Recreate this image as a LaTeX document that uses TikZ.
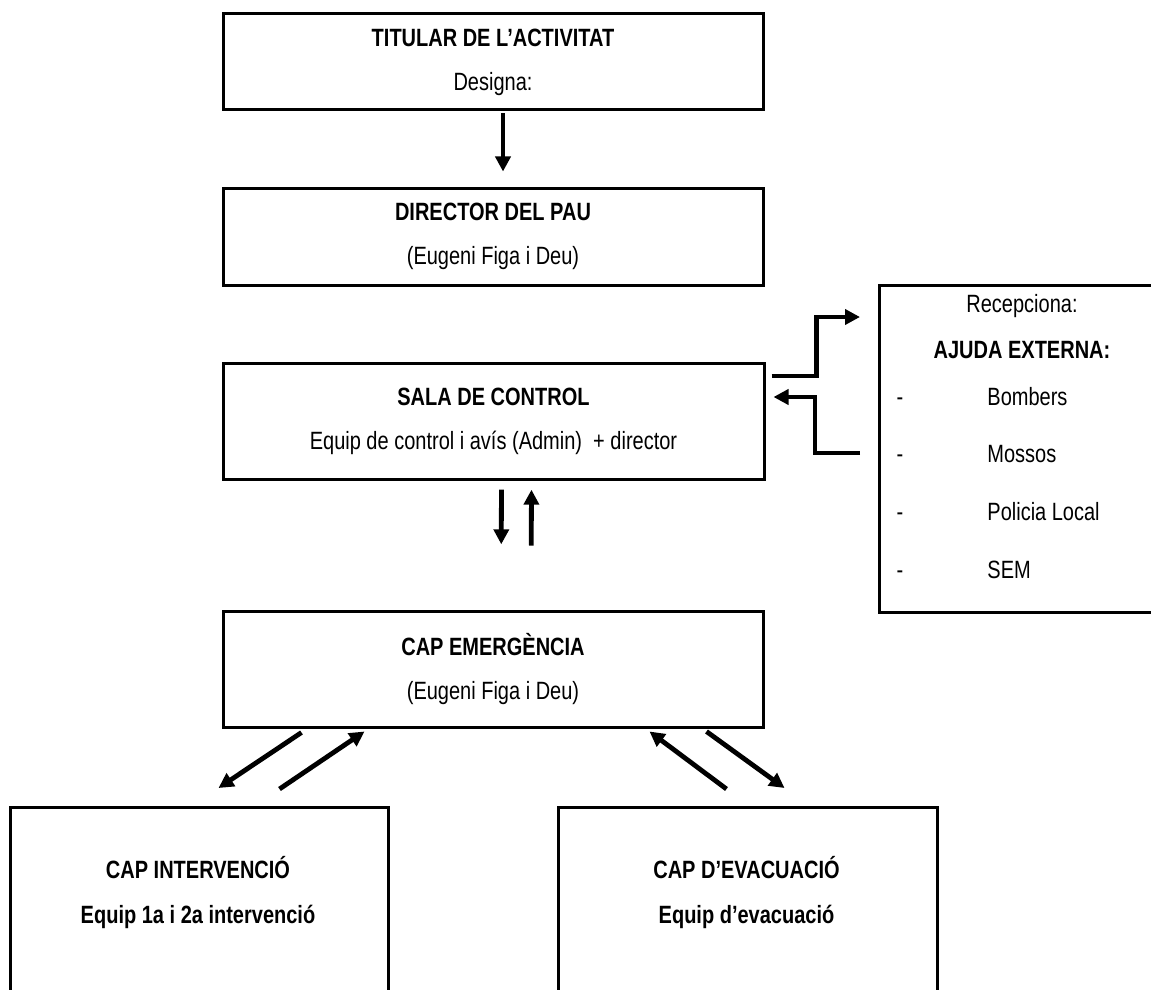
\documentclass[tikz,border=0pt]{standalone}
\usepackage{fontspec}
\setmainfont{Liberation Sans}[FakeStretch=0.8]
\usetikzlibrary{arrows.meta,calc,positioning}

\tikzset{
  box/.style={draw, line width=1.5pt, rectangle, align=center, inner sep=0pt},
  arr/.style={line width=2.4pt, -{Triangle[length=7.5pt,width=7.5pt]}},
}

\begin{document}
\begin{tikzpicture}[x=0.5pt, y=-0.5pt, font=\fontsize{12.5}{22}\selectfont]
\useasboundingbox (0,0) rectangle (1151,990);

\node[box, minimum width=270pt, minimum height=48pt] (titular) at (493,62) {\textbf{TITULAR DE L’ACTIVITAT}\\ Designa:};
\node[box, minimum width=270pt, minimum height=48.5pt] (director) at (493,236.5) {\textbf{DIRECTOR DEL PAU}\\ (Eugeni Figa i Deu)};
\node[box, minimum width=270.5pt, minimum height=58pt] (sala) at (493.5,421) {\textbf{SALA DE CONTROL}\\ Equip de control i avís (Admin)~~+ director};
\node[box, minimum width=270pt, minimum height=58pt] (cap) at (493,669) {\textbf{CAP EMERGÈNCIA}\\ (Eugeni Figa i Deu)};

\node[box, anchor=north west, minimum width=175pt, minimum height=163.5pt] (ajuda) at (878,284) {};
\node[anchor=base] (recep) at (1022,312) {Recepciona:};
\node[anchor=base] (externa) at (1022,358) {\textbf{AJUDA EXTERNA:}};
\foreach \nom [count=\i] in {Bombers, Mossos, Policia Local, SEM} {
  \node[anchor=base] (guio\i) at (900,{405+57.7*(\i-1)}) {-};
  \node[anchor=base west, inner xsep=0pt] (ext\i) at (987,{405+57.7*(\i-1)}) {\nom};
}

\node[box, anchor=north west, minimum width=189pt, minimum height=150pt] (interv) at (9,806) {};
\node[anchor=base] (intervtit) at (198,878) {\textbf{CAP INTERVENCIÓ}};
\node[anchor=base] (intervequip) at (198,923) {\textbf{Equip 1a i 2a intervenció}};
\node[box, anchor=north west, minimum width=189.5pt, minimum height=150pt] (evac) at (557,806) {};
\node[anchor=base] (evactit) at (746.5,878) {\textbf{CAP D’EVACUACIÓ}};
\node[anchor=base] (evacequip) at (746.5,923) {\textbf{Equip d’evacuació}};

\draw[arr, shorten <=1pt, shorten >=7.5pt] ([xshift=5pt]titular.south) -- ([xshift=5pt]director.north);

\draw[arr] ($(sala.east)+(6,-45)$) -- ++(45,0) |- ($(ajuda.north west)+(-18,33)$);
\draw[arr] ($(ajuda.north west)+(-18,169)$) -- ++(-45,0) |- ($(sala.east)+(8,-24)$);

\draw[arr, shorten <=4.6pt, shorten >=32.6pt] ([xshift=4pt]sala.south) -- ([xshift=4pt]cap.north);
\draw[arr, shorten <=32pt, shorten >=4.6pt] ([xshift=19pt]cap.north) -- ([xshift=19pt]sala.south);

\draw[arr] ($(cap.south west)+(80,4)$) -- ($(interv.north)+(19,-18)$);
\draw[arr] ($(interv.north)+(80,-17)$) -- ($(cap.south west)+(143,3)$);
\draw[arr] ($(evac.north)+(-21.5,-17)$) -- ($(cap.south east)+(-115,3)$);
\draw[arr] ($(cap.south east)+(-58,3)$) -- ($(evac.north)+(36.5,-18)$);
\end{tikzpicture}
\end{document}
